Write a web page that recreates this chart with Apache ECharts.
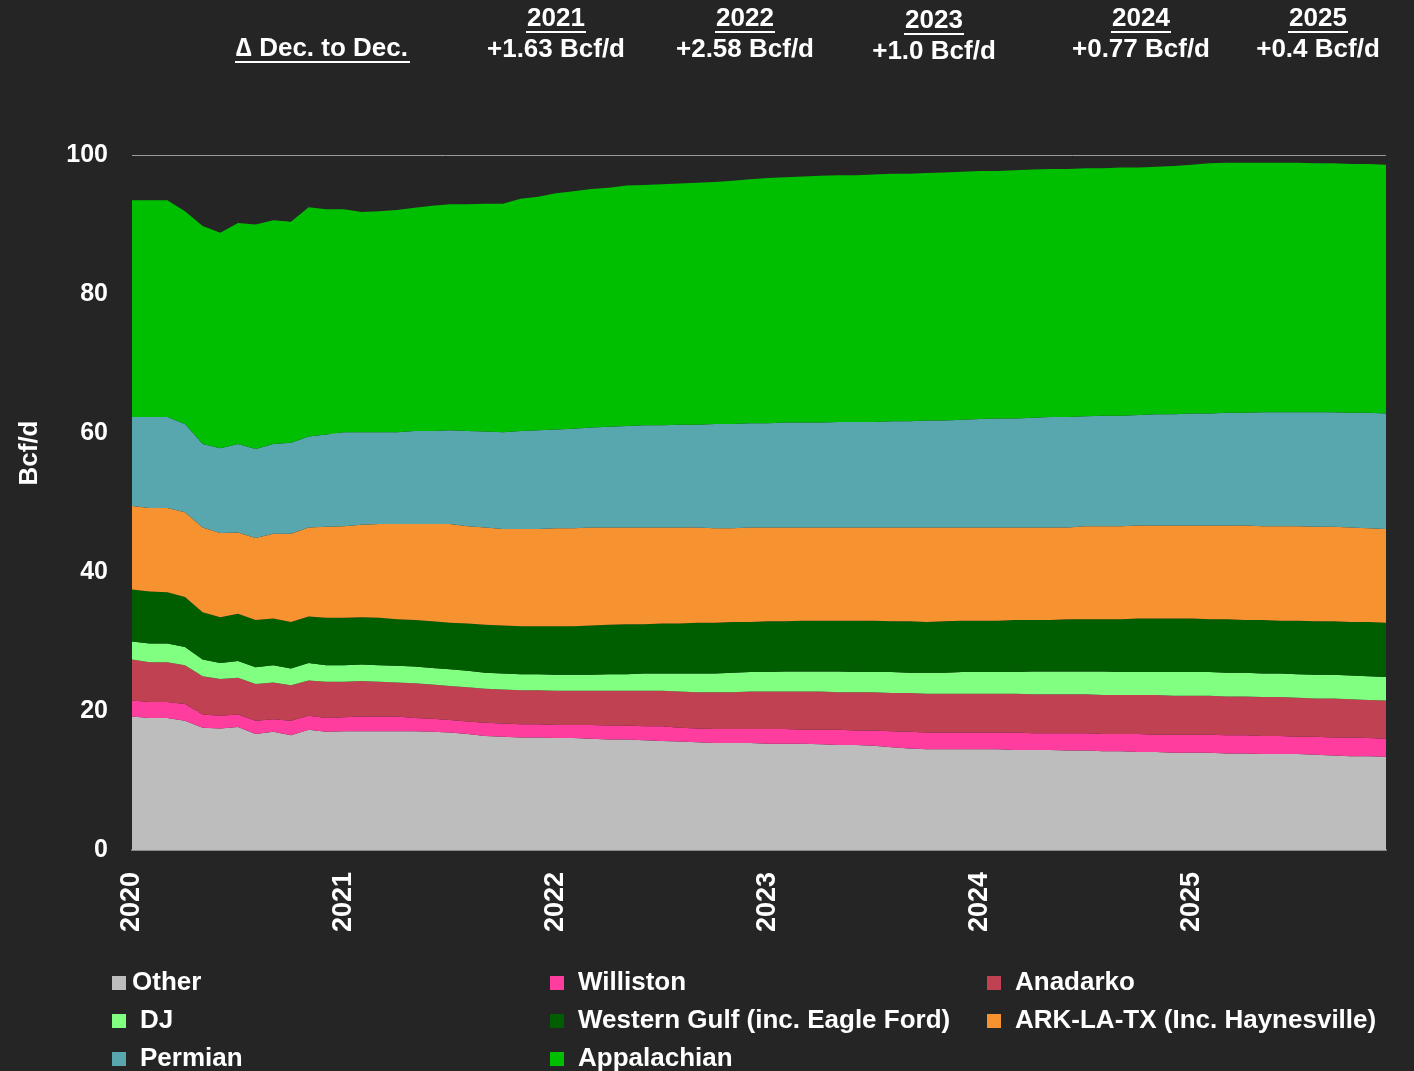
<!DOCTYPE html>
<html>
<head>
<meta charset="utf-8">
<script src="https://cdn.jsdelivr.net/npm/echarts@6/dist/echarts.min.js"></script>
<style>
  html, body { margin: 0; padding: 0; background: #252525; }
  #chart { width: 1414px; height: 1071px; }
</style>
</head>
<body>
<div id="chart"></div>
<script>
// monthly, Jan 2020 .. Dec 2025 (Bcf/d)
var months = [];
for (var y = 2020; y <= 2025; y++) {
	for (var m = 1; m <= 12; m++) {
		months.push(y + '-' + (m < 10 ? '0' + m : m));
	}
}

var other = [19.2, 19.0, 19.0, 18.6, 17.6, 17.5, 17.7, 16.7, 17.0, 16.5, 17.3, 17.0,
	17.1, 17.1, 17.1, 17.1, 17.1, 17.0, 16.9, 16.7, 16.4, 16.3, 16.2, 16.2,
	16.1, 16.1, 16.0, 15.9, 15.9, 15.8, 15.7, 15.6, 15.5, 15.4, 15.4, 15.4,
	15.3, 15.3, 15.3, 15.2, 15.1, 15.1, 15.0, 14.8, 14.6, 14.5, 14.5, 14.5,
	14.5, 14.5, 14.4, 14.4, 14.4, 14.3, 14.3, 14.2, 14.2, 14.1, 14.1, 14.0,
	14.0, 14.0, 13.9, 13.9, 13.8, 13.8, 13.8, 13.7, 13.6, 13.5, 13.5, 13.4];
var williston = [2.3, 2.3, 2.3, 2.4, 1.9, 1.8, 1.8, 1.9, 1.8, 2.1, 2.0, 2.0,
	2.0, 2.1, 2.1, 2.1, 1.9, 1.9, 1.8, 1.8, 1.9, 1.9, 1.9, 1.9,
	1.9, 1.9, 2.0, 2.0, 2.0, 2.0, 2.1, 2.0, 2.0, 2.0, 2.0, 2.0,
	2.1, 2.1, 2.0, 2.1, 2.2, 2.1, 2.2, 2.3, 2.4, 2.4, 2.4, 2.4,
	2.4, 2.4, 2.5, 2.4, 2.4, 2.5, 2.5, 2.5, 2.5, 2.6, 2.5, 2.6,
	2.6, 2.6, 2.6, 2.6, 2.6, 2.6, 2.5, 2.6, 2.6, 2.7, 2.6, 2.6];
var anadarko = [5.9, 5.7, 5.7, 5.6, 5.5, 5.3, 5.3, 5.3, 5.3, 5.1, 5.1, 5.2,
	5.1, 5.1, 5.0, 4.9, 5.0, 4.9, 4.9, 4.9, 4.9, 4.9, 4.9, 4.9,
	4.9, 4.9, 4.9, 5.0, 5.0, 5.1, 5.1, 5.2, 5.2, 5.3, 5.3, 5.4,
	5.4, 5.4, 5.5, 5.5, 5.4, 5.5, 5.5, 5.5, 5.6, 5.6, 5.6, 5.6,
	5.6, 5.6, 5.6, 5.6, 5.6, 5.6, 5.6, 5.6, 5.6, 5.6, 5.7, 5.6,
	5.6, 5.6, 5.6, 5.6, 5.6, 5.6, 5.6, 5.5, 5.6, 5.5, 5.5, 5.5];
var dj = [2.6, 2.7, 2.7, 2.6, 2.4, 2.3, 2.4, 2.4, 2.5, 2.4, 2.5, 2.4,
	2.4, 2.4, 2.4, 2.4, 2.4, 2.4, 2.4, 2.4, 2.3, 2.3, 2.3, 2.3,
	2.3, 2.3, 2.3, 2.4, 2.4, 2.5, 2.5, 2.6, 2.7, 2.7, 2.8, 2.8,
	2.8, 2.9, 2.9, 2.9, 3.0, 2.9, 2.9, 3.0, 2.9, 3.0, 3.0, 3.1,
	3.1, 3.1, 3.1, 3.3, 3.3, 3.3, 3.3, 3.4, 3.3, 3.3, 3.3, 3.4,
	3.4, 3.4, 3.4, 3.4, 3.4, 3.4, 3.4, 3.4, 3.4, 3.4, 3.4, 3.4];
var westernGulf = [7.5, 7.5, 7.4, 7.2, 6.8, 6.6, 6.8, 6.8, 6.7, 6.7, 6.7, 6.8,
	6.8, 6.8, 6.8, 6.7, 6.7, 6.7, 6.7, 6.8, 6.9, 6.9, 6.9, 6.9,
	7.0, 7.0, 7.1, 7.1, 7.2, 7.1, 7.2, 7.2, 7.3, 7.3, 7.3, 7.2,
	7.3, 7.2, 7.3, 7.3, 7.3, 7.4, 7.4, 7.3, 7.4, 7.3, 7.4, 7.4,
	7.4, 7.4, 7.5, 7.4, 7.4, 7.5, 7.5, 7.5, 7.6, 7.7, 7.7, 7.7,
	7.7, 7.6, 7.7, 7.6, 7.7, 7.6, 7.7, 7.7, 7.7, 7.7, 7.8, 7.8];
var arkLaTx = [12.0, 12.0, 12.1, 12.2, 12.2, 12.1, 11.7, 11.8, 12.2, 12.7, 12.8, 13.1,
	13.2, 13.3, 13.5, 13.7, 13.8, 14.0, 14.2, 14.0, 14.0, 13.9, 14.0, 14.0,
	14.1, 14.1, 14.1, 14.0, 13.9, 13.9, 13.8, 13.8, 13.7, 13.6, 13.5, 13.6,
	13.5, 13.5, 13.4, 13.4, 13.4, 13.4, 13.4, 13.5, 13.5, 13.6, 13.5, 13.4,
	13.4, 13.4, 13.3, 13.3, 13.3, 13.2, 13.4, 13.4, 13.4, 13.4, 13.4, 13.4,
	13.4, 13.5, 13.5, 13.6, 13.5, 13.6, 13.6, 13.6, 13.6, 13.6, 13.5, 13.5];
var permian = [12.8, 13.1, 13.1, 12.7, 12.0, 12.2, 12.7, 12.8, 12.9, 13.1, 13.1, 13.3,
	13.5, 13.3, 13.2, 13.2, 13.4, 13.4, 13.5, 13.7, 13.8, 13.9, 14.1, 14.2,
	14.2, 14.3, 14.4, 14.5, 14.6, 14.7, 14.7, 14.8, 14.8, 15.0, 15.0, 15.0,
	15.0, 15.1, 15.1, 15.1, 15.2, 15.2, 15.2, 15.3, 15.3, 15.4, 15.4, 15.5,
	15.6, 15.7, 15.7, 15.8, 15.9, 15.9, 15.8, 15.9, 15.9, 15.9, 16.0, 16.0,
	16.1, 16.1, 16.2, 16.2, 16.4, 16.4, 16.4, 16.5, 16.5, 16.5, 16.6, 16.6];
var appalachian = [31.2, 31.2, 31.2, 30.6, 31.4, 31.0, 31.8, 32.3, 32.2, 31.8, 33.0, 32.4,
	32.1, 31.7, 31.8, 32.0, 32.1, 32.4, 32.5, 32.6, 32.8, 32.9, 33.4, 33.6,
	34.0, 34.2, 34.3, 34.4, 34.6, 34.6, 34.7, 34.7, 34.8, 34.8, 35.0, 35.1,
	35.3, 35.3, 35.4, 35.5, 35.5, 35.5, 35.6, 35.6, 35.6, 35.6, 35.7, 35.7,
	35.7, 35.6, 35.7, 35.7, 35.7, 35.7, 35.7, 35.6, 35.7, 35.6, 35.6, 35.7,
	35.8, 36.0, 36.0, 36.0, 35.9, 35.9, 35.9, 35.8, 35.8, 35.8, 35.8, 35.8];

var seriesNames = ['Other', 'Williston', 'Anadarko', 'DJ', 'Western Gulf (inc. Eagle Ford)',
	'ARK-LA-TX (Inc. Haynesville)', 'Permian', 'Appalachian'];
var seriesData = [other, williston, anadarko, dj, westernGulf, arkLaTx, permian, appalachian];
var colors = ['#bdbdbd', '#ff3d9e', '#c04152', '#80ff80', '#005e00', '#f69230', '#58a6ae', '#00bf00'];

// Dec-to-Dec change annotations
var deltaYears = ['2021', '2022', '2023', '2024', '2025'];
var deltaValues = ['+1.63 Bcf/d', '+2.58 Bcf/d', '+1.0 Bcf/d', '+0.77 Bcf/d', '+0.4 Bcf/d'];
var deltaPos = [[556, 19], [745, 19], [934, 21], [1141, 19], [1318, 19]];

var FONT = '"Liberation Sans", Arial, sans-serif';
var FS = 26;

var myChart = echarts.init(document.getElementById('chart'));

var graphics = [{
	type: 'text', x: 322, y: 49,
	style: { text: '\u2206 Dec. to Dec.', fill: '#fff', font: 'bold ' + FS + 'px ' + FONT, align: 'center', verticalAlign: 'middle' }
}, {
	type: 'line', shape: { x1: 235, y1: 62, x2: 410, y2: 62 },
	style: { stroke: '#fff', lineWidth: 2 }
}, {
	type: 'text', x: 30, y: 453, rotation: Math.PI / 2,
	style: { text: 'Bcf/d', fill: '#fff', font: 'bold ' + FS + 'px ' + FONT, align: 'center', verticalAlign: 'middle' }
}];
deltaYears.forEach(function (yr, i) {
	var cx = deltaPos[i][0], cy = deltaPos[i][1];
	graphics.push({
		type: 'text', x: cx, y: cy,
		style: { text: yr, fill: '#fff', font: 'bold ' + FS + 'px ' + FONT, align: 'center', verticalAlign: 'middle' }
	});
	graphics.push({
		type: 'line', shape: { x1: cx - 30, y1: cy + 13, x2: cx + 30, y2: cy + 13 },
		style: { stroke: '#fff', lineWidth: 2 }
	});
	graphics.push({
		type: 'text', x: cx, y: cy + 31,
		style: { text: deltaValues[i], fill: '#fff', font: 'bold ' + FS + 'px ' + FONT, align: 'center', verticalAlign: 'middle' }
	});
});

function legendCol(left, items) {
	return {
		orient: 'vertical',
		left: left,
		top: 969,
		height: 150,
		padding: 0,
		itemWidth: 14,
		itemHeight: 14,
		itemGap: 10,
		icon: 'rect',
		data: items.map(function (it) {
			return { name: it[0], textStyle: { padding: [0, 0, 0, it[1]] } };
		}),
		textStyle: { color: '#fff', fontSize: FS, fontWeight: 'bold', fontFamily: FONT, lineHeight: 28 }
	};
}

var option = {
	backgroundColor: '#252525',
	color: colors,
	animation: false,
	textStyle: { fontFamily: FONT },
	graphic: graphics,
	legend: [
		legendCol(112, [['Other', 1], ['DJ', 9], ['Permian', 9]]),
		legendCol(550, [['Williston', 9], ['Western Gulf (inc. Eagle Ford)', 9], ['Appalachian', 9]]),
		legendCol(987, [['Anadarko', 9], ['ARK-LA-TX (Inc. Haynesville)', 9]])
	],
	grid: {
		left: 132,
		right: 28,
		top: 155,
		bottom: 221
	},
	xAxis: {
		type: 'category',
		boundaryGap: false,
		data: months,
		axisLine: { lineStyle: { color: '#888', width: 2 } },
		axisTick: { show: false },
		axisLabel: {
			color: '#fff',
			fontSize: 27,
			fontWeight: 'bold',
			fontFamily: FONT,
			rotate: 90,
			margin: 22,
			interval: function (index) { return index % 12 === 0; },
			formatter: function (v) { return v.slice(0, 4); }
		}
	},
	yAxis: {
		type: 'value',
		min: 0,
		max: 100,
		interval: 20,
		axisLine: { show: false },
		axisTick: { show: false },
		axisLabel: { color: '#fff', fontSize: 25, fontWeight: 'bold', fontFamily: FONT, margin: 24 },
		splitLine: { lineStyle: { color: '#9a9a9a', width: 1 } }
	},
	series: seriesNames.map(function (name, i) {
		return {
			name: name,
			type: 'line',
			stack: 'total',
			data: seriesData[i],
			showSymbol: false,
			lineStyle: { width: 0 },
			areaStyle: { color: colors[i], opacity: 1 },
			emphasis: { disabled: true }
		};
	})
};

myChart.setOption(option);
</script>
</body>
</html>
